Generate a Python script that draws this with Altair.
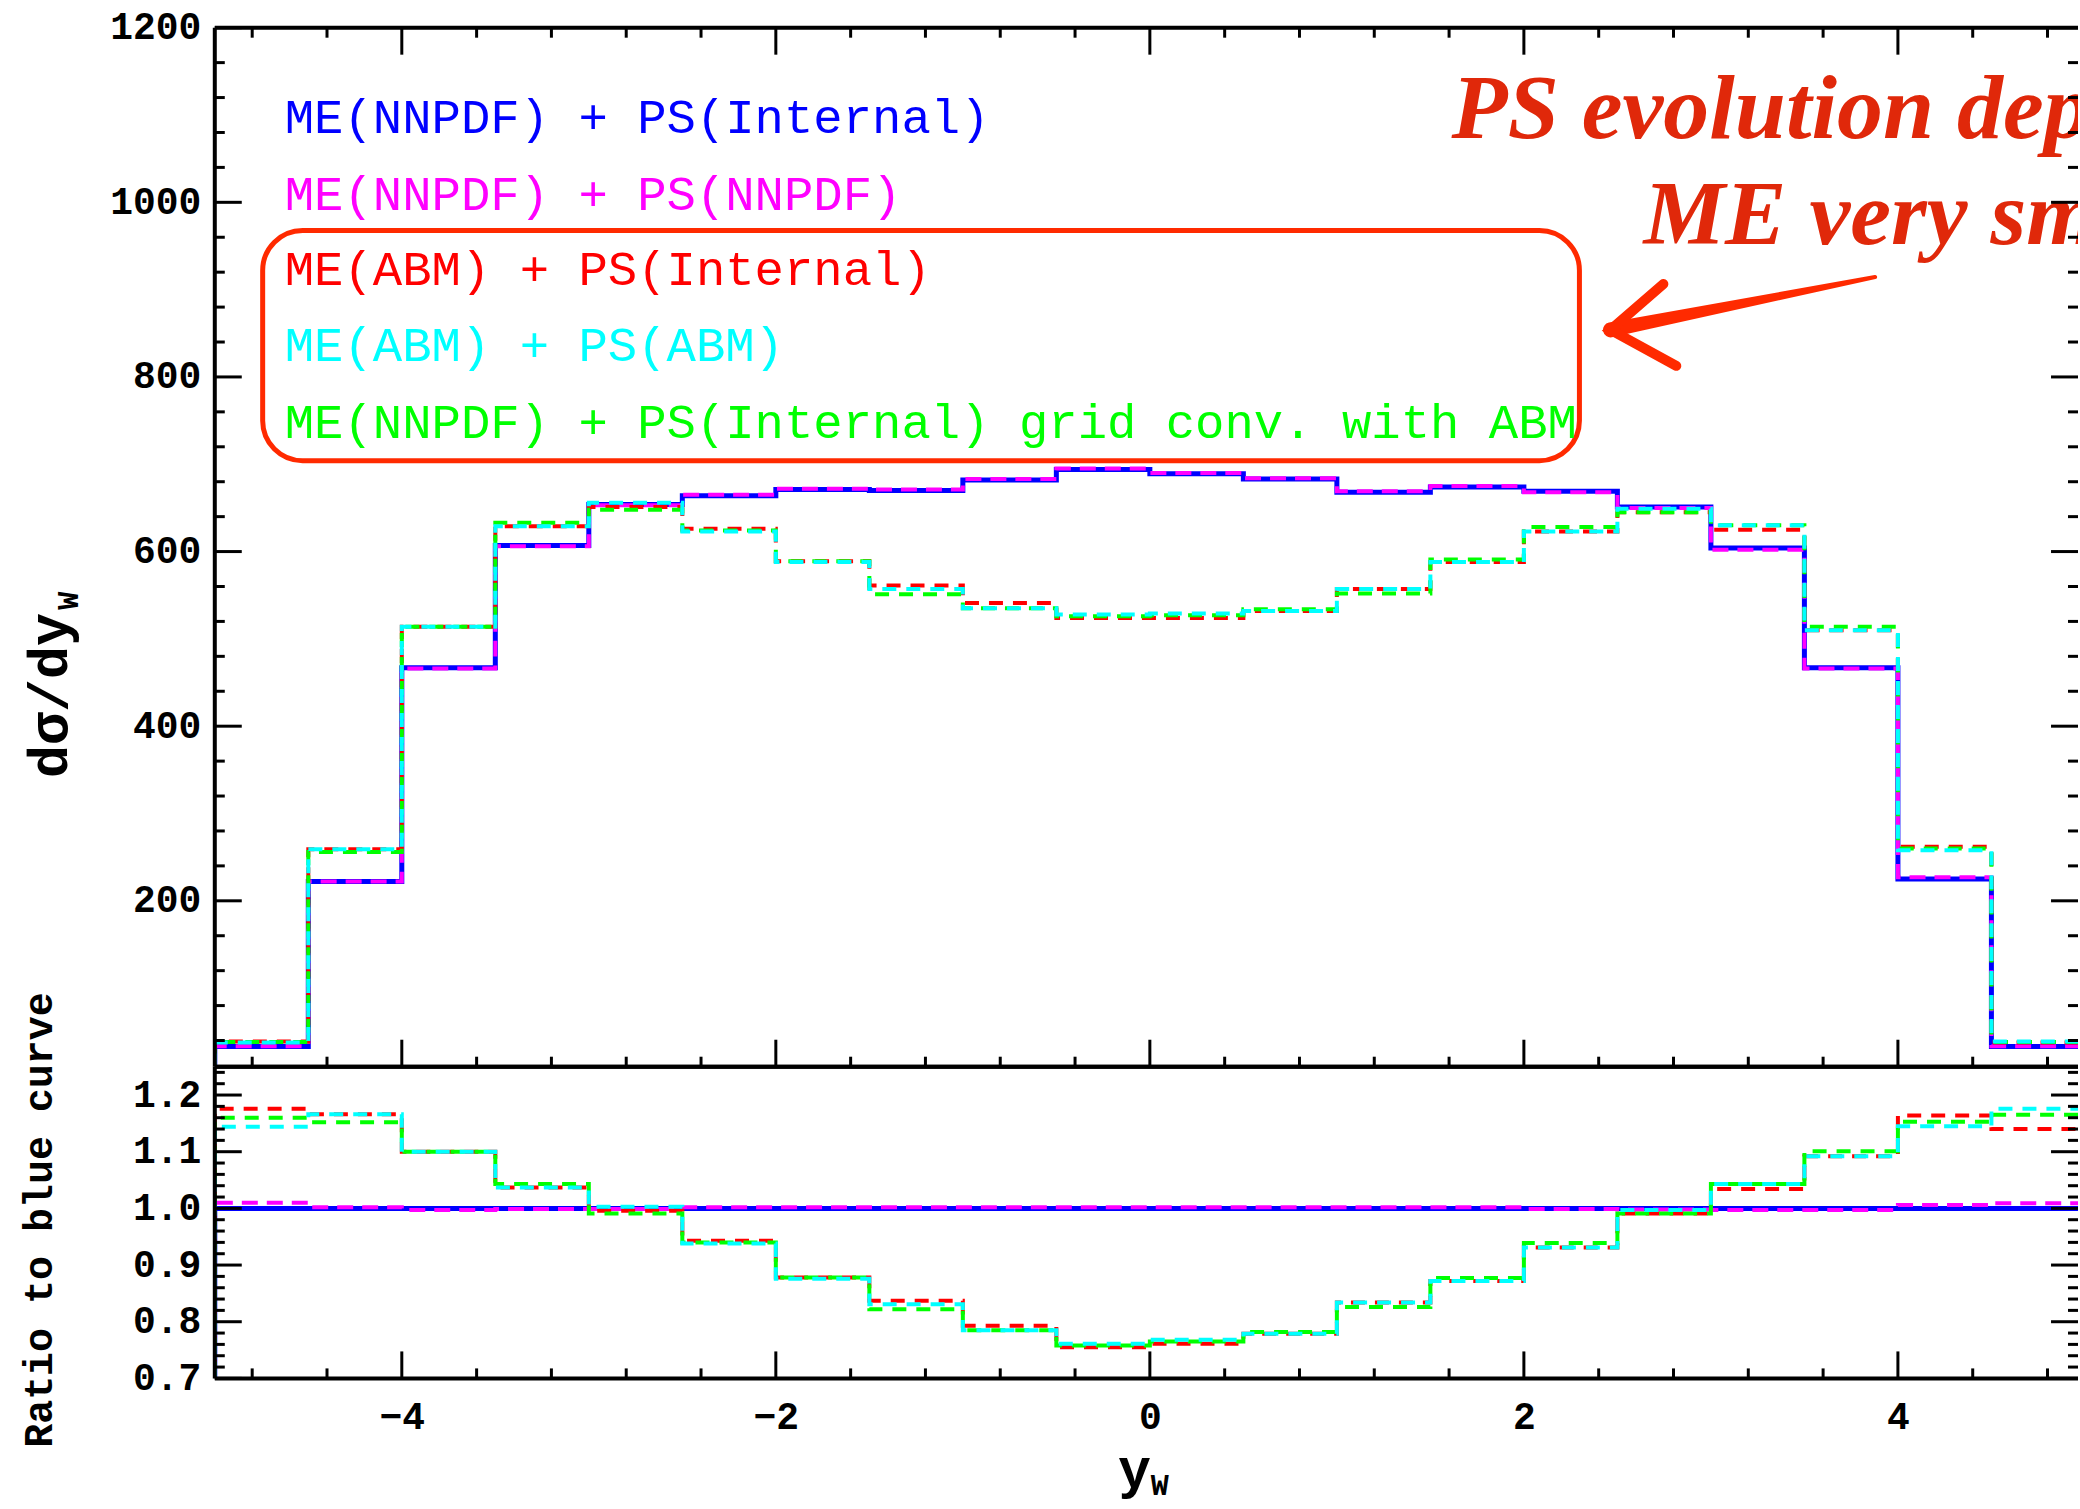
import altair as alt
import pandas as pd

# ---------------- data ----------------
edges = [-5.0, -4.5, -4.0, -3.5, -3.0, -2.5, -2.0, -1.5, -1.0, -0.5,
         0.0, 0.5, 1.0, 1.5, 2.0, 2.5, 3.0, 3.5, 4.0, 4.5, 5.0]

blue_top = [33, 222, 467, 607, 654, 664, 671, 670, 682, 694,
            689, 683, 668, 674, 669, 651, 604, 467, 225, 33]
magenta_top = [33.3, 222, 466, 606, 653, 665, 672, 671, 683, 695,
               690, 684, 669, 675, 668, 650, 602, 466, 227, 33.3]
red_top = [38.8, 259, 514, 629, 651, 626, 589, 561, 541, 524,
           524, 532, 557, 588, 623, 645, 625, 510, 262, 37.6]
cyan_top = [37.8, 259, 514, 629, 656, 623, 588, 557, 535, 528,
            529, 532, 557, 588, 623, 649, 630, 510, 258, 38.8]
green_top = [38.3, 256, 514, 633, 648, 624, 589, 551, 535, 526,
             527, 534, 552, 591, 628, 645, 630, 514, 260, 38.4]

blue_ratio = [1.0, 1.0, 1.0, 1.0, 1.0, 1.0, 1.0, 1.0, 1.0, 1.0,
              1.0, 1.0, 1.0, 1.0, 1.0, 1.0, 1.0, 1.0, 1.0, 1.0]
magenta_ratio = [1.010, 1.002, 0.997, 0.999, 0.999, 1.002, 1.002, 1.002, 1.002, 1.002,
                 1.002, 1.002, 1.002, 1.002, 0.999, 0.998, 0.997, 0.997, 1.006, 1.009]
red_ratio = [1.176, 1.166, 1.100, 1.037, 0.996, 0.943, 0.878, 0.837, 0.793, 0.755,
             0.761, 0.779, 0.834, 0.872, 0.931, 0.991, 1.034, 1.092, 1.164, 1.140]
cyan_ratio = [1.144, 1.166, 1.100, 1.037, 1.003, 0.938, 0.876, 0.831, 0.785, 0.761,
              0.768, 0.779, 0.834, 0.872, 0.931, 0.997, 1.043, 1.092, 1.145, 1.176]
green_ratio = [1.160, 1.152, 1.100, 1.043, 0.991, 0.940, 0.878, 0.822, 0.785, 0.758,
               0.765, 0.782, 0.826, 0.877, 0.939, 0.991, 1.043, 1.101, 1.153, 1.165]

series_names = ["ME(NNPDF) + PS(Internal)",
                "ME(NNPDF) + PS(NNPDF)",
                "ME(ABM) + PS(Internal)",
                "ME(ABM) + PS(ABM)",
                "ME(NNPDF) + PS(Internal) grid conv. with ABM"]
series_colors = ["#0000ff", "#ff00ff", "#ff0000", "#00ffff", "#00ff00"]

legend_x = [-4.626, -4.626, -4.626, -4.626, -4.626]
legend_y = [1096, 1008, 922, 835, 747]
box_x = [-4.744]
box_x2 = [2.297]
box_y = [967.7]
box_y2 = [704.0]

note_lines = ["PS evolution dependence on", "ME very small"]
note_x = [1.613, 2.639]
note_y = [1073.6, 952.3]

arrow_shaft_x = [3.878, 2.463]
arrow_shaft_y = [914.5, 853.9]
arrow_shaft_w = [4.0, 15.0]
arrow_head_x = [2.746, 2.463, 2.815]
arrow_head_y = [906.5, 853.9, 812.7]

x_major = [-4, -2, 0, 2, 4]
x_minor = [-4.8, -4.4, -3.6, -3.2, -2.8, -2.4, -1.6, -1.2, -0.8, -0.4,
           0.4, 0.8, 1.2, 1.6, 2.4, 2.8, 3.2, 3.6, 4.4, 4.8]
top_y_major = [200, 400, 600, 800, 1000, 1200]
top_y_minor = [40, 80, 120, 160, 240, 280, 320, 360, 440, 480, 520, 560,
               640, 680, 720, 760, 840, 880, 920, 960, 1040, 1080, 1120, 1160]
rat_y_major = [0.7, 0.8, 0.9, 1.0, 1.1, 1.2]
rat_y_minor = [0.72, 0.74, 0.76, 0.78, 0.82, 0.84, 0.86, 0.88, 0.92, 0.94, 0.96, 0.98,
               1.02, 1.04, 1.06, 1.08, 1.12, 1.14, 1.16, 1.18, 1.22, 1.24]

# ---------------- layout / style ----------------
W = 1865
H_TOP = 1040
H_RAT = 312
X_MIN, X_MAX = -5.0, 4.963
MONO = "Liberation Mono"
MAJ, MIN = 27, 10

xscale = alt.Scale(domain=[X_MIN, X_MAX], nice=False, zero=False)
yscale_top = alt.Scale(domain=[10, 1200], nice=False, zero=False)
yscale_rat = alt.Scale(domain=[0.7, 1.25], nice=False, zero=False)

label_style = dict(labelFont=MONO, labelFontWeight="bold", labelFontSize=38, labelColor="black",
                   ticks=False, tickSize=0, domain=False, grid=False, title=None)
blank_axis = alt.Axis(labels=False, ticks=False, tickSize=0, domain=False, grid=False, title=None)

top_xaxis = blank_axis
top_yaxis = alt.Axis(values=top_y_major, format="d", labelPadding=14, **label_style)
rat_xaxis = alt.Axis(values=x_major, format="d", labelPadding=20, labelFlush=False, **label_style)
rat_yaxis = alt.Axis(values=rat_y_major, format=".1f", labelPadding=14, **label_style)

one = pd.DataFrame({"k": [0]})


def step_frame(vals):
    xs, ys = [edges[0]], [0.0]
    for i, v in enumerate(vals):
        xs += [edges[i], edges[i + 1]]
        ys += [v, v]
    xs.append(edges[-1])
    ys.append(0.0)
    return pd.DataFrame({"x": xs, "v": ys, "i": list(range(len(xs)))})


styles = [  # color, dash, width, dash offset
    ("#0000ff", None, 5, 0),
    ("#ff00ff", [16, 9], 4, 0),
    ("#ff0000", [14, 10], 4, 0),
    ("#00ff00", [14, 10], 4, 8),
    ("#00ffff", [14, 10], 4, 16),
]


class Panel:
    def __init__(self, yscale, xaxis, yaxis):
        self.yscale, self.xaxis, self.yaxis = yscale, xaxis, yaxis

    def X(self, f):
        return alt.X(f, scale=xscale, axis=self.xaxis)

    def Y(self, f):
        return alt.Y(f, scale=self.yscale, axis=self.yaxis)

    def curves(self, series):
        layers = []
        for vals, st in zip(series, styles):
            color, dash, width, off = st
            kw = dict(color=color, strokeWidth=width, clip=True, strokeCap="butt")
            if dash:
                kw["strokeDash"] = dash
                kw["strokeDashOffset"] = off
            layers.append(
                alt.Chart(step_frame(vals)).mark_line(**kw).encode(
                    x=self.X("x:Q"), y=self.Y("v:Q"), order=alt.Order("i:Q")))
        return layers

    def xticks(self, vals, y0, y1):
        return alt.Chart(pd.DataFrame({"t": vals})).mark_rule(color="black", strokeWidth=3).encode(
            x=self.X("t:Q"), y=alt.value(y0), y2=alt.value(y1))

    def yticks(self, vals, x0, x1):
        return alt.Chart(pd.DataFrame({"t": vals})).mark_rule(color="black", strokeWidth=3).encode(
            y=self.Y("t:Q"), x=alt.value(x0), x2=alt.value(x1))


def hline(y):
    return alt.Chart(one).mark_rule(color="black", strokeWidth=4).encode(
        x=alt.value(0), x2=alt.value(W), y=alt.value(y))


def vline(x, h):
    return alt.Chart(one).mark_rule(color="black", strokeWidth=4).encode(
        x=alt.value(x), y=alt.value(0), y2=alt.value(h))


def text_at(label, x, y, size, angle=0, align="center", baseline="alphabetic", weight="bold"):
    return alt.Chart(pd.DataFrame({"s": [label]})).mark_text(
        font=MONO, fontSize=size, fontWeight=weight, angle=angle, align=align,
        baseline=baseline, color="black").encode(x=alt.value(x), y=alt.value(y), text="s:N")


# ---------------- top panel ----------------
P = Panel(yscale_top, top_xaxis, top_yaxis)
top_layers = P.curves([blue_top, magenta_top, red_top, green_top, cyan_top])

legend_df = pd.DataFrame({"x": legend_x, "y": legend_y, "label": series_names, "c": series_colors})
legend = alt.Chart(legend_df).mark_text(font=MONO, fontSize=49, align="left", baseline="middle").encode(
    x=P.X("x:Q"), y=P.Y("y:Q"), text="label:N", color=alt.Color("c:N", scale=None))

box = alt.Chart(pd.DataFrame({"x": box_x, "x2": box_x2, "y": box_y, "y2": box_y2})).mark_rect(
    filled=False, color="#ff2a00", strokeWidth=5, cornerRadius=40).encode(
    x=P.X("x:Q"), x2="x2:Q", y=P.Y("y:Q"), y2="y2:Q")

note = alt.Chart(pd.DataFrame({"x": note_x, "y": note_y, "s": note_lines})).mark_text(
    font="Liberation Serif", fontStyle="italic", fontWeight="bold", fontSize=92,
    color="#e0280a", align="left", baseline="alphabetic", clip=True).encode(
    x=P.X("x:Q"), y=P.Y("y:Q"), text="s:N")

shaft = alt.Chart(pd.DataFrame({"x": arrow_shaft_x, "y": arrow_shaft_y, "w": arrow_shaft_w,
                                "i": [0, 1]})).mark_trail(color="#ff2a00").encode(
    x=P.X("x:Q"), y=P.Y("y:Q"),
    size=alt.Size("w:Q", scale=None, legend=None),
    order=alt.Order("i:Q"))

head = alt.Chart(pd.DataFrame({"x": arrow_head_x, "y": arrow_head_y, "i": [0, 1, 2]})).mark_line(
    color="#ff2a00", strokeWidth=10, strokeJoin="miter", strokeCap="round").encode(
    x=P.X("x:Q"), y=P.Y("y:Q"), order=alt.Order("i:Q"))

top = alt.layer(
    *top_layers, box, legend, note, shaft, head,
    P.xticks(x_major, 0, MAJ), P.xticks(x_minor, 0, MIN),
    P.xticks(x_major, H_TOP, H_TOP - MAJ), P.xticks(x_minor, H_TOP, H_TOP - MIN),
    P.yticks(top_y_major, 0, MAJ), P.yticks(top_y_minor, 0, MIN),
    P.yticks(top_y_major, W, W - MAJ), P.yticks(top_y_minor, W, W - MIN),
    hline(0), hline(H_TOP), vline(0, H_TOP),
    text_at("d\u03c3/dy", -148, 668.5, 55, angle=270),
    text_at("W", -137, 573.5, 30, angle=270),
).properties(width=W, height=H_TOP)

# ---------------- ratio panel ----------------
R = Panel(yscale_rat, rat_xaxis, rat_yaxis)
X0 = (0 - X_MIN) / (X_MAX - X_MIN) * W
rat_layers = R.curves([blue_ratio, magenta_ratio, red_ratio, green_ratio, cyan_ratio])

ratio = alt.layer(
    *rat_layers,
    R.xticks(x_major, H_RAT, H_RAT - MAJ), R.xticks(x_minor, H_RAT, H_RAT - MIN),
    R.yticks(rat_y_major, 0, MAJ), R.yticks(rat_y_minor, 0, MIN),
    R.yticks(rat_y_major, W, W - MAJ), R.yticks(rat_y_minor, W, W - MIN),
    hline(0), hline(H_RAT), vline(0, H_RAT),
    text_at("Ratio to blue curve", -163, 153.5, 40, angle=270),
    text_at("y", X0 + 1, 421, 55, align="right"),
    text_at("W", X0 + 1, 429, 30, align="left"),
).properties(width=W, height=H_RAT)

chart = alt.vconcat(top, ratio, spacing=0, bounds="flush").properties(
    padding={"left": 20, "top": 8, "right": 0, "bottom": 6},
    background="white",
).configure_view(stroke=None)

chart.save("out.html", embed_options={"renderer": "svg", "actions": False})
